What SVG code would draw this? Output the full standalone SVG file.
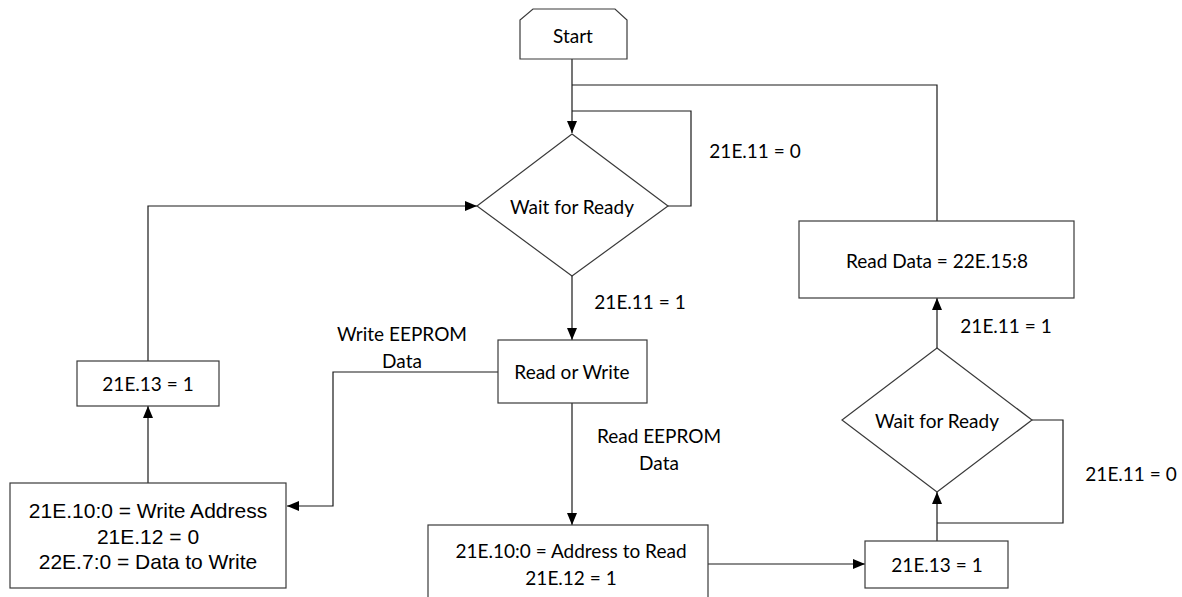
<svg xmlns="http://www.w3.org/2000/svg" width="1182" height="597" viewBox="0 0 1182 597">
<defs>
<marker id="arr" viewBox="0 0 12 10" refX="12" refY="5" markerWidth="12" markerHeight="10" markerUnits="userSpaceOnUse" orient="auto">
<path d="M0,0 L12,5 L0,10 z" fill="#000"/>
</marker>
<style>
.shape{fill:#fff;stroke:#3a3a3a;stroke-width:1.2}
.conn{fill:none;stroke:#1a1a1a;stroke-width:1.2}
.t{font-family:Lato,"Liberation Sans",sans-serif;font-size:19px;fill:#000;text-anchor:middle;dominant-baseline:central}
.a{font-family:"Liberation Sans",Arial,sans-serif;font-size:21px;fill:#000;text-anchor:middle;dominant-baseline:central}
</style>
</defs>
<rect width="1182" height="597" fill="#fff"/>
<g id="connectors">
<path class="conn" d="M572,59 V133" marker-end="url(#arr)"/>
<path class="conn" d="M937,221 V85 H572"/>
<path class="conn" d="M668,206 H691 V111 H572"/>
<path class="conn" d="M572,276 V340" marker-end="url(#arr)"/>
<path class="conn" d="M148,361 V206 H477" marker-end="url(#arr)"/>
<path class="conn" d="M498,372 H333 V506 H287" marker-end="url(#arr)"/>
<path class="conn" d="M148,483 V406" marker-end="url(#arr)"/>
<path class="conn" d="M572,403 V525" marker-end="url(#arr)"/>
<path class="conn" d="M708,564 H865" marker-end="url(#arr)"/>
<path class="conn" d="M937,541 V492" marker-end="url(#arr)"/>
<path class="conn" d="M1032,420 H1063 V523 H937"/>
<path class="conn" d="M937,348 V298" marker-end="url(#arr)"/>
<text class="t" x="755" y="150">21E.11 = 0</text>
<text class="t" x="640" y="301">21E.11 = 1</text>
<text class="t" x="402" y="333">Write EEPROM</text>
<text class="t" x="402" y="360">Data</text>
<text class="t" x="659" y="435">Read EEPROM</text>
<text class="t" x="659" y="462">Data</text>
<text class="t" x="1006" y="325">21E.11 = 1</text>
<text class="t" x="1131" y="473">21E.11 = 0</text>
</g>
<g id="start">
<path class="shape" d="M533,9 H615 L627,20 V59 H520 V20 Z"/>
<text class="t" x="573" y="35">Start</text>
</g>
<g id="wait1">
<path class="shape" d="M572,134 L668,206 L572,276 L477,206 Z"/>
<text class="t" x="572" y="206">Wait for Ready</text>
</g>
<g id="readorwrite">
<rect class="shape" x="498" y="340" width="149" height="63"/>
<text class="t" x="572" y="371">Read or Write</text>
</g>
<g id="set13a">
<rect class="shape" x="77" y="361" width="142" height="45"/>
<text class="t" x="148" y="383">21E.13 = 1</text>
</g>
<g id="writebox">
<rect class="shape" x="10" y="483" width="276" height="105"/>
<text class="a" x="148" y="510">21E.10:0 = Write Address</text>
<text class="a" x="148" y="536">21E.12 = 0</text>
<text class="a" x="148" y="561">22E.7:0 = Data to Write</text>
</g>
<g id="readbox">
<rect class="shape" x="428" y="525" width="280" height="80"/>
<text class="t" x="571" y="550">21E.10:0 = Address to Read</text>
<text class="t" x="571" y="577">21E.12 = 1</text>
</g>
<g id="set13b">
<rect class="shape" x="865" y="541" width="143" height="47"/>
<text class="t" x="937" y="564">21E.13 = 1</text>
</g>
<g id="wait2">
<path class="shape" d="M937,348 L1032,420 L937,492 L842,420 Z"/>
<text class="t" x="937" y="420">Wait for Ready</text>
</g>
<g id="readdata">
<rect class="shape" x="799" y="221" width="275" height="77"/>
<text class="t" x="937" y="260">Read Data = 22E.15:8</text>
</g>
</svg>
